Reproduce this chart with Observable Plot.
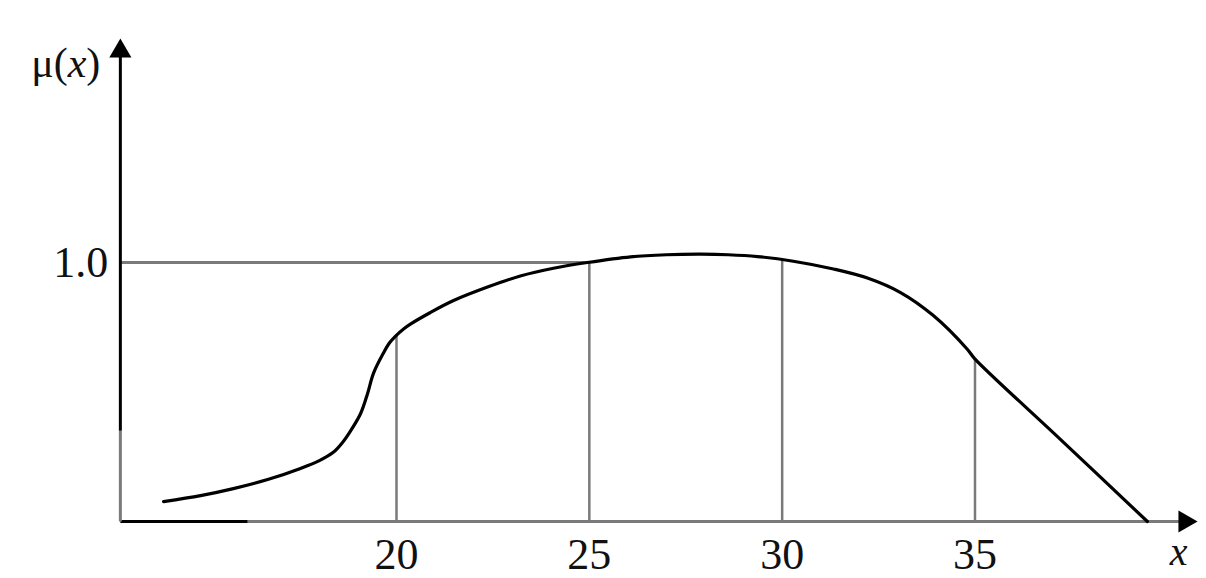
<!DOCTYPE html>
<html><head><meta charset="utf-8">
<script src="https://cdn.jsdelivr.net/npm/d3@7"></script>
<script src="https://cdn.jsdelivr.net/npm/@observablehq/plot@0.6"></script>
<style>body{margin:0;background:#fff}svg{display:block}</style>
</head><body><div id="chart"></div>
<script>
// membership curve mu(x)
const curveX = [13.96,14.92,15.77,16.66,17.51,18.0,18.37,18.6,18.81,19.07,19.25,19.40,19.66,19.82,19.97,20.2,20.36,20.88,21.48,22.36,23.21,24.07,24.95,26.07,27.0,27.88,28.6,29.36,30.29,31.33,32.21,33.07,33.92,34.80,34.99,37.2,39.47];
const curveY = [0.077,0.100,0.127,0.162,0.205,0.235,0.268,0.305,0.350,0.417,0.494,0.571,0.650,0.690,0.715,0.745,0.762,0.807,0.853,0.905,0.948,0.978,1.000,1.022,1.030,1.032,1.030,1.023,1.005,0.975,0.940,0.884,0.795,0.665,0.629,0.319,0.0];
// vertical guides
const guideX = [20, 25, 30, 35];
const guideY = [0.715, 1.0, 1.005, 0.629];
const tickLabels = ["20", "25", "30", "35"];
// reference level
const refLevel = 1.0;
const refLabel = "1.0";
const refEndX = 25;
// axis extents
const xAxisStart = 12.84, xAxisEnd = 40.77, yAxisEnd = 1.865;
const yLabel = "μ(x)", xLabel = "x";

const curve = curveX.map((x, i) => ({x, y: curveY[i]}));
const guides = guideX.map((x, i) => ({x, y: guideY[i], label: tickLabels[i]}));

const font = "'Liberation Serif','DejaVu Serif',serif";
const gray = "#7a7a7a";

const chart = Plot.plot({
  width: 1206, height: 578,
  margin: 0,
  style: {background: "#fff", fontFamily: font},
  x: {domain: [20, 35], range: [396, 974.5], axis: null},
  y: {domain: [0, 1], range: [521, 262], axis: null},
  marks: [
    // reference line at 1.0
    Plot.link([refLevel], {x1: xAxisStart, x2: refEndX, y1: d => d, y2: d => d, stroke: gray, strokeWidth: 3}),
    // vertical guides
    Plot.ruleX(guides, {x: "x", y1: 0, y2: "y", stroke: gray, strokeWidth: 2.5}),
    // axes
    Plot.link([0], {x1: xAxisStart + 3.3, x2: xAxisEnd - 0.4, y1: 0, y2: 0, stroke: gray, strokeWidth: 3}),
    Plot.link([0], {x1: xAxisStart, x2: xAxisStart + 3.3, y1: 0, y2: 0, stroke: "#000", strokeWidth: 3}),
    Plot.link([0], {x1: xAxisStart, x2: xAxisStart, y1: 0, y2: 0.35, stroke: gray, strokeWidth: 3}),
    Plot.link([0], {x1: xAxisStart, x2: xAxisStart, y1: 0.35, y2: yAxisEnd - 0.04, stroke: "#000", strokeWidth: 3}),
    // arrowheads
    Plot.dot([0], {x: xAxisStart, y: yAxisEnd, symbol: "triangle", r: 8.2, fill: "#000", stroke: "none", dy: 12.7}),
    Plot.dot([0], {x: xAxisEnd, y: 0, symbol: "triangle", r: 8.2, fill: "#000", stroke: "none", rotate: 90, dx: -12.7}),
    // curve
    Plot.line(curve, {x: "x", y: "y", curve: "catmull-rom", stroke: "#000", strokeWidth: 3.2}),
    // tick labels
    Plot.text(guides, {x: "x", y: 0, text: "label", dy: 33, fontSize: 44, fill: "#111"}),
    Plot.text([refLabel], {x: xAxisStart, y: refLevel, text: d => d, dx: -12, textAnchor: "end", fontSize: 44, fill: "#111"}),
    Plot.text([yLabel], {x: xAxisStart, y: yAxisEnd, text: d => d, dx: -20, dy: 25, textAnchor: "end", fontSize: 42, fill: "#111", className: "ylab"}),
    Plot.text([xLabel], {x: xAxisEnd, y: 0, text: d => d, dx: -19, dy: 31, fontSize: 40, fontStyle: "italic", fill: "#111"})
  ]
});
document.getElementById("chart").append(chart);
d3.select(chart).selectAll(".ylab text").html("μ(<tspan font-style='italic'>x</tspan>)");
</script>
</body></html>
